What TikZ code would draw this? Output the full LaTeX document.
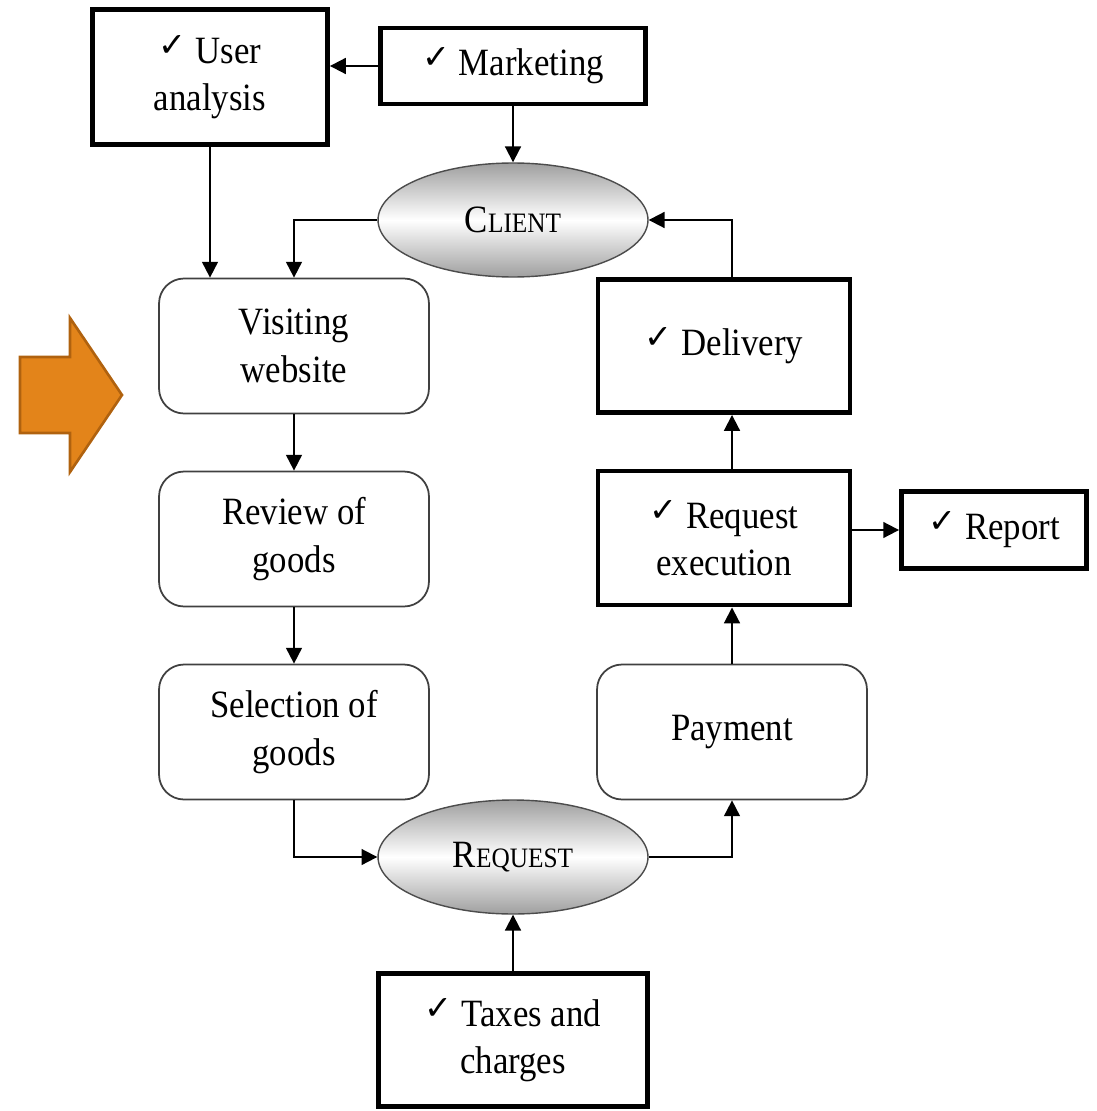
\documentclass[tikz,border=0pt]{standalone}
\usepackage{fontspec}
\setmainfont{Liberation Serif}[FakeStretch=0.9]
\newfontfamily\tickfont{DejaVu Sans}
\usetikzlibrary{arrows.meta,shapes.geometric}
\newcommand{\tck}{\raisebox{4pt}{\tickfont\fontsize{19}{19}\selectfont ✓}}
\newcommand{\smc}[2]{#1{\fontsize{16}{16}\selectfont #2}}
\definecolor{arroworange}{HTML}{E3841A}
\definecolor{arrowedge}{HTML}{B0620F}
\tikzset{
    every node/.style={font=\fontsize{22}{27}\selectfont, align=center},
    thickbox/.style={draw, line width=2.8pt},
    softbox/.style={draw=black!75, line width=1pt, rounded corners=0.5cm,
        minimum width=5.4cm, minimum height=2.7cm},
    oval/.style={ellipse, draw=black!70, line width=0.8pt, top color=gray!75,
        bottom color=gray!75, middle color=white, minimum width=5.4cm, minimum height=2.28cm},
    link/.style={-{Triangle[length=9pt,width=9pt]}, line width=1.1pt}
}
\begin{document}
    \begin{tikzpicture}[x=0.02cm, y=-0.02cm]
        \useasboundingbox (0, 0) rectangle (1096, 1111);
        \filldraw[fill=arroworange, draw=arrowedge, line width=1.5pt]
            (20, 357) -- (70, 357) -- (70, 318) -- (122, 395) -- (70, 472) -- (70, 433) -- (20, 433) -- cycle;
        \node[thickbox, minimum width=4.7cm, minimum height=2.7cm] (user) at (210, 77) {\tck{} User\\analysis};
        \node[thickbox, minimum width=5.3cm, minimum height=1.52cm] (market) at (513, 66) {\tck{} Marketing};
        \node[oval] (client) at (513, 220) {\smc{C}{LIENT}};
        \node[softbox] (visit) at (294, 346) {Visiting\\website};
        \node[softbox] (review) at (294, 539) {Review of\\goods};
        \node[softbox] (select) at (294, 732) {Selection of\\goods};
        \node[oval] (request) at (513, 857) {\smc{R}{EQUEST}};
        \node[thickbox, minimum width=5.38cm, minimum height=2.66cm] (taxes) at (513, 1040) {\tck{} Taxes and\\charges};
        \node[softbox] (payment) at (732, 732) {Payment};
        \node[thickbox, minimum width=5.04cm, minimum height=2.68cm] (exec) at (724, 538) {\tck{} Request\\execution};
        \node[thickbox, minimum width=3.7cm, minimum height=1.54cm] (report) at (994, 530) {\tck{} Report};
        \node[thickbox, minimum width=5.04cm, minimum height=2.66cm] (delivery) at (724, 346) {\tck{} Delivery};
        \draw[link] (market.west) -- (market.west -| user.east);
        \draw[link] (market.south) -- (client.north);
        \draw[link] (user.south) -- (user.south |- visit.north);
        \draw[link] (client.west) -| (visit.north);
        \draw[link] (visit) -- (review);
        \draw[link] (review) -- (select);
        \draw[link] (select.south) |- (request.west);
        \draw[link] (taxes.north) -- (request.south);
        \draw[link] (request.east) -| (payment.south);
        \draw[link] (payment.north) -- (payment.north |- exec.south);
        \draw[link] (exec.east |- report.west) -- (report.west);
        \draw[link] (exec.north -| payment) -- (delivery.south -| payment);
        \draw[link] (delivery.north -| payment) |- (client.east);
    \end{tikzpicture}
\end{document}
